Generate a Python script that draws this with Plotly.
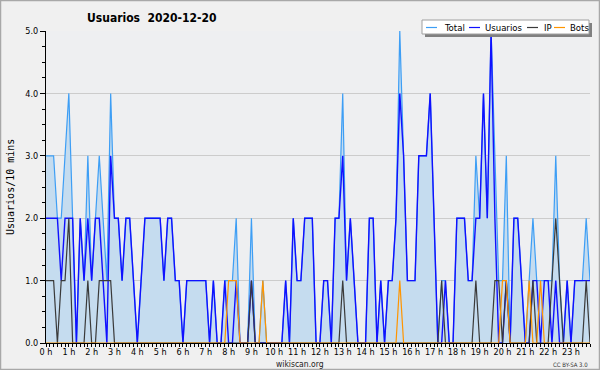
import plotly.graph_objects as go

# 10-minute slots, 0:00 .. 23:50 (144 values)
usuarios = [2,2,2,2,1,2,2,2,0,2,1,2,1,2,2,1,0,3,2,2,1,2,2,1,
            0,1,2,2,2,2,2,1,2,2,1,1,0,1,1,1,1,1,1,0,1,0,0,1,
            0,0,1,0,0,0,1,0,0,0,0,0,0,0,0,1,0,2,1,1,2,2,2,0,
            0,1,1,0,2,2,3,1,2,1,0,0,0,2,2,0,1,0,1,1,2,4,3,1,
            1,1,3,3,3,4,2,0,0,1,0,0,2,2,2,1,1,2,2,4,2,5,2,0,
            0,1,0,2,2,1,0,0,1,1,0,1,1,0,1,0,0,1,0,1,1,1,1,1]
ip = [1,1,1,0,1,1,2,0,0,0,0,1,0,0,1,1,1,1,0,0,0,0,0,0,
      0,0,0,0,0,0,0,0,0,0,0,0,0,0,0,0,0,0,0,0,0,0,0,0,
      0,0,0,0,0,0,1,0,0,0,0,0,0,0,0,0,0,0,0,0,0,0,0,0,
      0,0,0,0,0,0,1,0,0,0,0,0,0,0,0,0,0,0,0,0,0,0,0,0,
      0,0,0,0,0,0,0,0,1,0,0,0,0,0,0,0,0,1,0,0,0,0,1,1,
      0,1,0,0,0,0,0,0,1,0,0,0,0,1,2,1,0,0,0,0,0,0,1,0]
bots = [0,0,0,0,0,0,0,0,0,0,0,0,0,0,0,0,0,0,0,0,0,0,0,0,
        0,0,0,0,0,0,0,0,0,0,0,0,0,0,0,0,0,0,0,0,0,0,0,0,
        1,1,1,0,0,0,0,0,0,1,0,0,0,0,0,0,0,0,0,0,0,0,0,0,
        0,0,0,0,0,0,0,0,0,0,0,0,0,0,0,0,0,0,0,0,0,1,0,0,
        0,0,0,0,0,0,0,0,0,0,0,0,0,0,0,0,0,0,0,0,0,0,0,0,
        1,1,0,0,0,0,0,1,0,0,1,0,0,0,0,0,0,0,0,0,0,0,0,0]
total = [3,3,3,2,2,3,4,2,0,2,1,3,1,2,3,2,1,4,2,2,1,2,2,1,
         0,1,2,2,2,2,2,1,2,2,1,1,0,1,1,1,1,1,1,0,1,0,0,1,
         1,1,2,0,0,0,2,0,0,1,0,0,0,0,0,1,0,2,1,1,2,2,2,0,
         0,1,1,0,2,2,4,1,2,1,0,0,0,2,2,0,1,0,1,1,2,5,3,1,
         1,1,3,3,3,4,2,0,1,1,0,0,2,2,2,1,1,3,2,4,2,5,3,1,
         1,3,0,2,2,1,0,1,2,1,1,1,1,1,3,1,0,1,0,1,1,1,2,1]
hours = [i / 6 for i in range(144)]
hour_ticks = list(range(24))
hour_labels = [f"{h} h" for h in hour_ticks]
y_ticks = [0, 1, 2, 3, 4, 5]

FONT = "DejaVu Sans Condensed, DejaVu Sans"
W, H = 600, 370
L, R, T, B = 46, 590, 31, 343

fig = go.Figure()
fig.add_trace(go.Scatter(x=hours, y=total, mode="lines", name="Total",
                         line=dict(color="#3d9ef5", width=1.2),
                         fill="tozeroy", fillcolor="#c5dcef"))
fig.add_trace(go.Scatter(x=hours, y=usuarios, mode="lines", name="Usuarios",
                         line=dict(color="#1010ff", width=1.4)))
fig.add_trace(go.Scatter(x=hours, y=ip, mode="lines", name="IP",
                         line=dict(color="#3a3a3a", width=1.2)))
fig.add_trace(go.Scatter(x=hours, y=bots, mode="lines", name="Bots",
                         line=dict(color="#ff9500", width=1.2)))

def px(x):
    return (x - L) / (R - L)

def py(y):
    return (B - y) / (B - T)

shapes = [
    # outer border
    dict(type="rect", xref="paper", yref="paper", x0=px(0.5), x1=px(W - 0.5),
         y0=py(H - 0.5), y1=py(0.5), line=dict(color="#a8a8a8", width=1.5), layer="below"),
    # legend shadow
    dict(type="rect", xref="paper", yref="paper", x0=px(425), x1=px(592),
         y0=py(37), y1=py(23), fillcolor="#808080", line=dict(width=0)),
    # legend box
    dict(type="rect", xref="paper", yref="paper", x0=px(422), x1=px(589),
         y0=py(34), y1=py(20), fillcolor="#ffffff", line=dict(color="#a0a0a0", width=1)),
]
annotations = [
    dict(text="<b>Usuarios  2020-12-20</b>", x=px(85), y=py(18), xref="paper", yref="paper",
         xanchor="left", yanchor="middle", showarrow=False,
         font=dict(family=FONT, size=12, color="#000")),
    dict(text="Usuarios/10 mins", x=px(10), y=py(187), xref="paper", yref="paper",
         textangle=-90, xanchor="center", yanchor="middle", showarrow=False,
         font=dict(family="DejaVu Sans Mono", size=10, color="#000")),
    dict(text="wikiscan.org", x=px(300), y=py(364), xref="paper", yref="paper",
         xanchor="center", yanchor="middle", showarrow=False,
         font=dict(family=FONT, size=8.5, color="#222")),
    dict(text="CC BY-SA 3.0", x=px(590), y=py(364), xref="paper", yref="paper",
         xanchor="right", yanchor="middle", showarrow=False,
         font=dict(family=FONT, size=6, color="#333")),
]
legend_items = [("Total", "#3d9ef5", 426, 442), ("Usuarios", "#1010ff", 469, 483),
                ("IP", "#3a3a3a", 527, 542), ("Bots", "#ff9500", 554, 568)]
for name, col, lx, tx in legend_items:
    shapes.append(dict(type="line", xref="paper", yref="paper", x0=px(lx), x1=px(lx + 11),
                       y0=py(27.5), y1=py(27.5), line=dict(color=col, width=1.2)))
    annotations.append(dict(text=name, x=px(tx), y=py(27.5), xref="paper", yref="paper",
                            xanchor="left", yanchor="middle", showarrow=False,
                            font=dict(family=FONT, size=9.5, color="#000")))

fig.update_layout(
    width=W, height=H, showlegend=False,
    margin=dict(l=L, r=W - R, t=T, b=H - B, pad=0),
    paper_bgcolor="#f0f0f0", plot_bgcolor="#eeeff1",
    shapes=shapes, annotations=annotations,
    xaxis=dict(range=[0, 143 / 6], tickvals=hour_ticks, ticktext=hour_labels,
               ticks="outside", ticklen=3, tickcolor="#000", showgrid=False,
               showline=True, linecolor="#000", linewidth=1, zeroline=False,
               ticklabelstandoff=-3,
               tickfont=dict(family=FONT, size=9, color="#000"),
               minor=dict(dtick=1 / 6, tick0=0, ticks="outside", ticklen=3, tickcolor="#000")),
    yaxis=dict(range=[0, 5], tickvals=y_ticks, tickformat=".1f",
               ticks="outside", ticklen=5, tickcolor="#000",
               showgrid=True, gridcolor="#cccccc", gridwidth=1,
               showline=True, linecolor="#000", linewidth=1, zeroline=False,
               tickfont=dict(family=FONT, size=9, color="#000"),
               minor=dict(dtick=0.25, tick0=0, ticks="outside", ticklen=3, tickcolor="#000",
                          showgrid=False)),
)
fig.write_html("out.html", config={"displayModeBar": False},
               post_script="document.body.style.margin='0';document.body.style.padding='0';"
                           "document.body.style.overflow='hidden';")
